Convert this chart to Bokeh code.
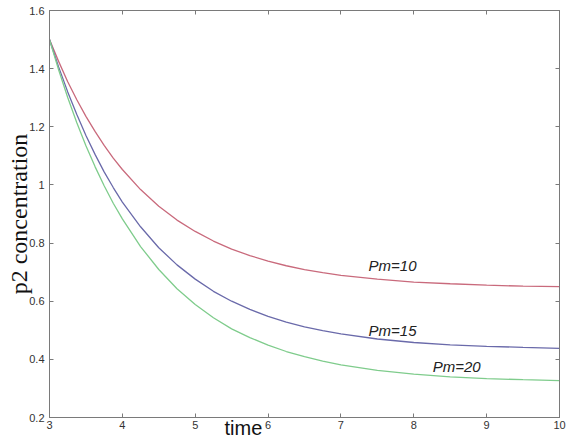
from bokeh.plotting import figure
from bokeh.models import Label, LinearAxis, FixedTicker, Range1d
from bokeh.embed import file_html
from bokeh.resources import INLINE

# data
time = [3, 3.125, 3.25, 3.375, 3.5, 3.625, 3.75, 3.875, 4, 4.25, 4.5, 4.75, 5,
        5.25, 5.5, 5.75, 6, 6.25, 6.5, 6.75, 7, 7.5, 8, 8.5, 9, 9.5, 10]
pm10 = [1.500, 1.425, 1.355, 1.293, 1.236, 1.184, 1.136, 1.092, 1.053, 0.984,
        0.927, 0.879, 0.840, 0.807, 0.779, 0.757, 0.738, 0.722, 0.709, 0.698,
        0.689, 0.676, 0.666, 0.660, 0.655, 0.652, 0.650]
pm15 = [1.500, 1.406, 1.320, 1.242, 1.170, 1.105, 1.045, 0.991, 0.941, 0.856,
        0.784, 0.725, 0.676, 0.634, 0.600, 0.572, 0.548, 0.528, 0.512, 0.499,
        0.488, 0.470, 0.458, 0.450, 0.445, 0.441, 0.438]
pm20 = [1.500, 1.396, 1.301, 1.214, 1.135, 1.063, 0.997, 0.937, 0.883, 0.788,
        0.709, 0.643, 0.589, 0.543, 0.505, 0.475, 0.449, 0.427, 0.409, 0.394,
        0.381, 0.362, 0.349, 0.340, 0.334, 0.330, 0.327]
series_names = ["Pm=10", "Pm=15", "Pm=20"]
x_ticks = [3, 4, 5, 6, 7, 8, 9, 10]
y_ticks = [0.2, 0.4, 0.6, 0.8, 1.0, 1.2, 1.4, 1.6]
y_tick_labels = ["0.2", "0.4", "0.6", "0.8", "1", "1.2", "1.4", "1.6"]

AX = "#7a7a7a"
TXT = "#333333"

p = figure(width=570, height=441, output_backend="svg", toolbar_location=None,
           x_range=Range1d(3, 10), y_range=Range1d(0.2, 1.6),
           min_border_left=49, min_border_right=11, min_border_top=10, min_border_bottom=24,
           background_fill_color="white", border_fill_color="white")
p.grid.visible = False
p.outline_line_color = AX
p.outline_line_width = 1

for ax in (p.xaxis[0], p.yaxis[0]):
    ax.major_tick_in = 4
    ax.major_tick_out = 0
    ax.minor_tick_in = 0
    ax.minor_tick_out = 0
    ax.axis_line_color = AX
    ax.major_tick_line_color = AX
    ax.major_label_text_font = "Liberation Sans"
    ax.major_label_text_font_size = "11px"
    ax.major_label_text_color = TXT
p.xaxis[0].ticker = FixedTicker(ticks=x_ticks)
p.xaxis[0].major_label_standoff = 3
p.yaxis[0].ticker = FixedTicker(ticks=y_ticks)
p.yaxis[0].major_label_overrides = {t: s for t, s in zip(y_ticks, y_tick_labels)}
p.yaxis[0].major_label_standoff = 5

# axis titles
p.yaxis[0].axis_label = "p2 concentration"
p.yaxis[0].axis_label_text_font = "Liberation Serif"
p.yaxis[0].axis_label_text_font_size = "24px"
p.yaxis[0].axis_label_text_font_style = "normal"
p.yaxis[0].axis_label_text_color = "#111111"
p.yaxis[0].axis_label_standoff = -6

p.xaxis[0].axis_label = "time" + "\u00a0" * 22
p.xaxis[0].axis_label_text_font = "Liberation Sans"
p.xaxis[0].axis_label_text_font_size = "20px"
p.xaxis[0].axis_label_text_font_style = "normal"
p.xaxis[0].axis_label_text_color = "#111111"
p.xaxis[0].axis_label_standoff = -15

# mirrored ticks on top and right (MATLAB box)
for loc, ticks in (("above", x_ticks), ("right", y_ticks)):
    a = LinearAxis(ticker=FixedTicker(ticks=ticks), major_tick_in=4, major_tick_out=0,
                   minor_tick_in=0, minor_tick_out=0, axis_line_color=AX,
                   major_tick_line_color=AX, major_label_text_font_size="0px",
                   major_label_text_alpha=0, major_label_standoff=0)
    p.add_layout(a, loc)

colors = ["#c96a7c", "#6a6aaa", "#7fcc8c"]
for ys, c in zip([pm10, pm15, pm20], colors):
    p.line(time, ys, line_color=c, line_width=1.3)

# curve labels
label_pos = [(7.38, 0.722), (7.38, 0.500), (8.26, 0.374)]
for name, (lx, ly) in zip(series_names, label_pos):
    p.add_layout(Label(x=lx, y=ly, text=name, text_font="Liberation Sans",
                       text_font_style="italic", text_font_size="15px",
                       text_color="#222222", text_baseline="alphabetic"))

open("out.html", "w").write(file_html(p, INLINE))
